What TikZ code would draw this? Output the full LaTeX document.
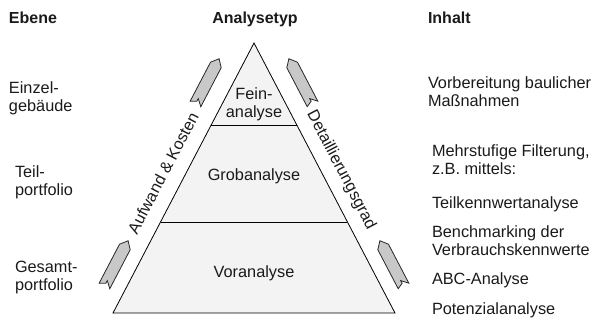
\documentclass[tikz,border=0pt]{standalone}
\usepackage{fontspec}
\setmainfont{Liberation Sans}
\usetikzlibrary{calc}
\definecolor{txt}{HTML}{1A1A1A}
\definecolor{pyr}{HTML}{F3F3F3}
\definecolor{arr}{HTML}{C8C8C8}
\tikzset{
  lbl/.style={inner sep=0pt, outer sep=0pt, text=txt, font=\fontsize{16.3}{18}\selectfont, align=left},
  hdr/.style={inner sep=0pt, outer sep=0pt, text=txt, font=\fontsize{16}{18}\selectfont\bfseries},
  ctr/.style={inner sep=0pt, outer sep=0pt, text=txt, font=\fontsize{16.3}{18}\selectfont, align=center},
  blockarrow/.style={draw=black!85, fill=arr, line width=0.8pt, line join=miter}
}
\newcommand{\fatarrow}[2]{%
  \begin{scope}[shift={#1}, rotate=#2]
    \draw[blockarrow] (-24,0) -- (-27,-6) -- (17,-6) -- (24,0) -- (17,6) -- (-27,6) -- (-21,0) -- cycle;
  \end{scope}}
\begin{document}
\begin{tikzpicture}[x=1pt,y=-1pt]
\useasboundingbox (0,0) rectangle (600,322);
% headers
\node[hdr, anchor=base west] (h1) at (9,23) {Ebene};
\node[hdr, anchor=base] (h2) at (255,23) {Analysetyp};
\node[hdr, anchor=base west] (h3) at (428,23) {Inhalt};
% pyramid
\coordinate (apex) at (254,43);
\coordinate (bl) at (113,313);
\coordinate (br) at (395,313);
\filldraw[fill=pyr, draw=black, line width=0.8pt] (apex) -- (br) -- (bl) -- cycle;
\coordinate (l1a) at ($(apex)!0.3037!(bl)$);
\coordinate (l1b) at ($(apex)!0.3037!(br)$);
\coordinate (l2a) at ($(apex)!0.6630!(bl)$);
\coordinate (l2b) at ($(apex)!0.6630!(br)$);
\draw[line width=0.8pt] (l1a) -- (l1b);
\draw[line width=0.8pt] (l2a) -- (l2b);
\node[ctr] (fein) at (254,104) {Fein-\\analyse};
\node[ctr] (grob) at (254,176) {Grobanalyse};
\node[ctr] (vor) at (254,273) {Voranalyse};
% side labels
\node[ctr, rotate=62.4] (auf) at (163,173) {Aufwand \& Kosten};
\node[ctr, rotate=-62.4] (det) at (341,170) {Detaillierungsgrad};
% arrows
\fatarrow{(208,80)}{62.4}
\fatarrow{(117,262)}{62.4}
\fatarrow{(300,80)}{117.6}
\fatarrow{(391,262)}{117.6}
% left column (anchor = baseline of last line)
\node[lbl, anchor=base west] (e1) at (9,111) {Einzel-\\gebäude};
\node[lbl, anchor=base west] (e2) at (15,195) {Teil-\\portfolio};
\node[lbl, anchor=base west] (e3) at (15,290) {Gesamt-\\portfolio};
% right column
\node[lbl, anchor=base west] (i1) at (428,106) {Vorbereitung baulicher\\Maßnahmen};
\node[lbl, anchor=base west] (i2) at (432,174) {Mehrstufige Filterung,\\z.B. mittels:};
\node[lbl, anchor=base west] (i3) at (432,208) {Teilkennwertanalyse};
\node[lbl, anchor=base west] (i4) at (432,255) {Benchmarking der\\Verbrauchskennwerte};
\node[lbl, anchor=base west] (i5) at (432,284) {ABC-Analyse};
\node[lbl, anchor=base west] (i6) at (432,314) {Potenzialanalyse};
\end{tikzpicture}
\end{document}
